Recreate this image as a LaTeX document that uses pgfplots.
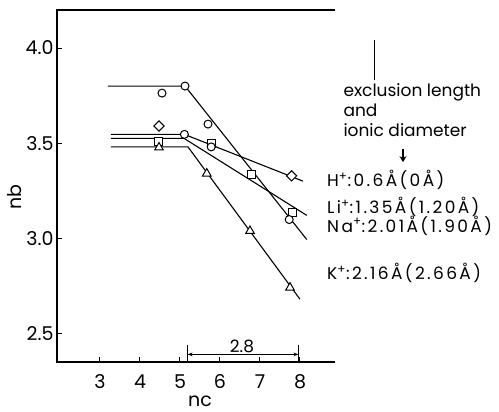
\documentclass[border=0pt]{standalone}
\usepackage{fontspec}
\setmainfont{Poppins}
\newfontfamily\wide[LetterSpace=14]{Poppins}
\usepackage{pgfplots}
\pgfplotsset{compat=1.18}
\usetikzlibrary{arrows.meta}
\begin{document}
\begin{tikzpicture}
\begin{axis}[
  at={(0,0)}, anchor=south west,
  scale only axis, width=278pt, height=352pt,
  xmin=1.925, xmax=8.875, ymin=2.349, ymax=4.2,
  axis line style={draw=none},
  xtick={3,4,5,6,7,8}, ytick={2.5,3.0,3.5,4.0},
  yticklabel style={/pgf/number format/.cd, fixed, fixed zerofill, precision=1},
  xticklabel style={yshift=-9pt},
  /pgf/number format/assume math mode=true,
  tick align=inside, xtick pos=lower, ytick pos=left,
  major tick length=5pt,
  tick style={black, line width=1pt},
  ticklabel style={font=\fontsize{19}{19}\selectfont},
  clip=false,
]
\draw[line width=1.1pt] (rel axis cs:1,1) -- (rel axis cs:0,1) -- (rel axis cs:0,0) -- (rel axis cs:1,0);
% lines
\addplot[black, line width=1.1pt] coordinates {(3.2,3.8) (5.125,3.8) (8.17,2.993)};
\addplot[black, line width=1.1pt] coordinates {(3.275,3.546) (5.11,3.546) (8.075,3.30)};
\addplot[black, line width=1.1pt] coordinates {(3.275,3.525) (5.1,3.525) (8.17,3.12)};
\addplot[black, line width=1.1pt] coordinates {(3.275,3.48) (5.2,3.48) (8.0,2.679)};
% markers
\addplot[only marks, mark=square*, mark size=3.6pt, mark options={rotate=45, fill=white, draw=black, line width=1pt}] coordinates {(4.475,3.59) (7.79,3.328)};
\addplot[only marks, mark=square*, mark size=4pt, mark options={fill=white, draw=black, line width=1pt}] coordinates {(4.475,3.507) (5.78,3.498) (6.79,3.333) (7.81,3.133)};
\addplot[only marks, mark=triangle*, mark size=5pt, mark options={fill=white, draw=black, line width=1pt}] coordinates {(4.475,3.477) (5.67,3.34) (6.75,3.038) (7.75,2.74)};
\addplot[only marks, mark=*, mark size=4pt, mark options={fill=white, draw=black, line width=1pt}] coordinates {(4.55,3.763) (5.125,3.8) (5.7,3.6) (7.73,3.098) (5.78,3.48) (5.11,3.546)};
% dimension
\draw[line width=1pt] (axis cs:5.19,2.349) -- (axis cs:5.19,2.437);
\draw[line width=1pt] (axis cs:7.96,2.349) -- (axis cs:7.96,2.437);
\draw[line width=1pt, {Stealth[length=5pt]}-{Stealth[length=5pt]}] (axis cs:5.19,2.389) -- (axis cs:7.96,2.389);
\node[font=\fontsize{17}{17}\selectfont, anchor=south, inner sep=1pt] at (axis cs:6.55,2.392) {2.8};
% right annotations
\draw[line width=1pt] (axis cs:9.875,4.044) -- (axis cs:9.875,3.833);
\node[font=\fontsize{17}{20}\selectfont, anchor=base west] at (axis cs:9.0,3.743) {exclusion length};
\node[font=\fontsize{17}{20}\selectfont, anchor=base west] at (axis cs:9.0,3.638) {and};
\node[font=\fontsize{17}{20}\selectfont, anchor=base west] at (axis cs:9.0,3.533) {ionic diameter};
\draw[line width=2.2pt, -{Stealth[length=6pt,width=7pt]}] (axis cs:10.575,3.47) -- (axis cs:10.575,3.40);
\node[font=\wide\fontsize{17}{17}\selectfont, anchor=west, inner sep=0pt] at (axis cs:8.675,3.307) {H\textsuperscript{+}:0.6Å(0Å)};
\node[font=\wide\fontsize{17}{17}\selectfont, anchor=west, inner sep=0pt] at (axis cs:8.675,3.163) {Li\textsuperscript{+}:1.35Å(1.20Å)};
\node[font=\wide\fontsize{17}{17}\selectfont, anchor=west, inner sep=0pt] at (axis cs:8.675,3.066) {Na\textsuperscript{+}:2.01Å(1.90Å)};
\node[font=\wide\fontsize{17}{17}\selectfont, anchor=west, inner sep=0pt] at (axis cs:8.675,2.817) {K\textsuperscript{+}:2.16Å(2.66Å)};
% axis labels
\node[font=\fontsize{19}{19}\selectfont, rotate=90] at (axis cs:0.875,3.217) {nb};
\node[font=\fontsize{19}{19}\selectfont] at (axis cs:5.5,2.144) {nc};
\end{axis}
\pgfresetboundingbox
\path[use as bounding box] (-57pt,-50pt) rectangle (442pt,362pt);
\end{tikzpicture}
\end{document}
